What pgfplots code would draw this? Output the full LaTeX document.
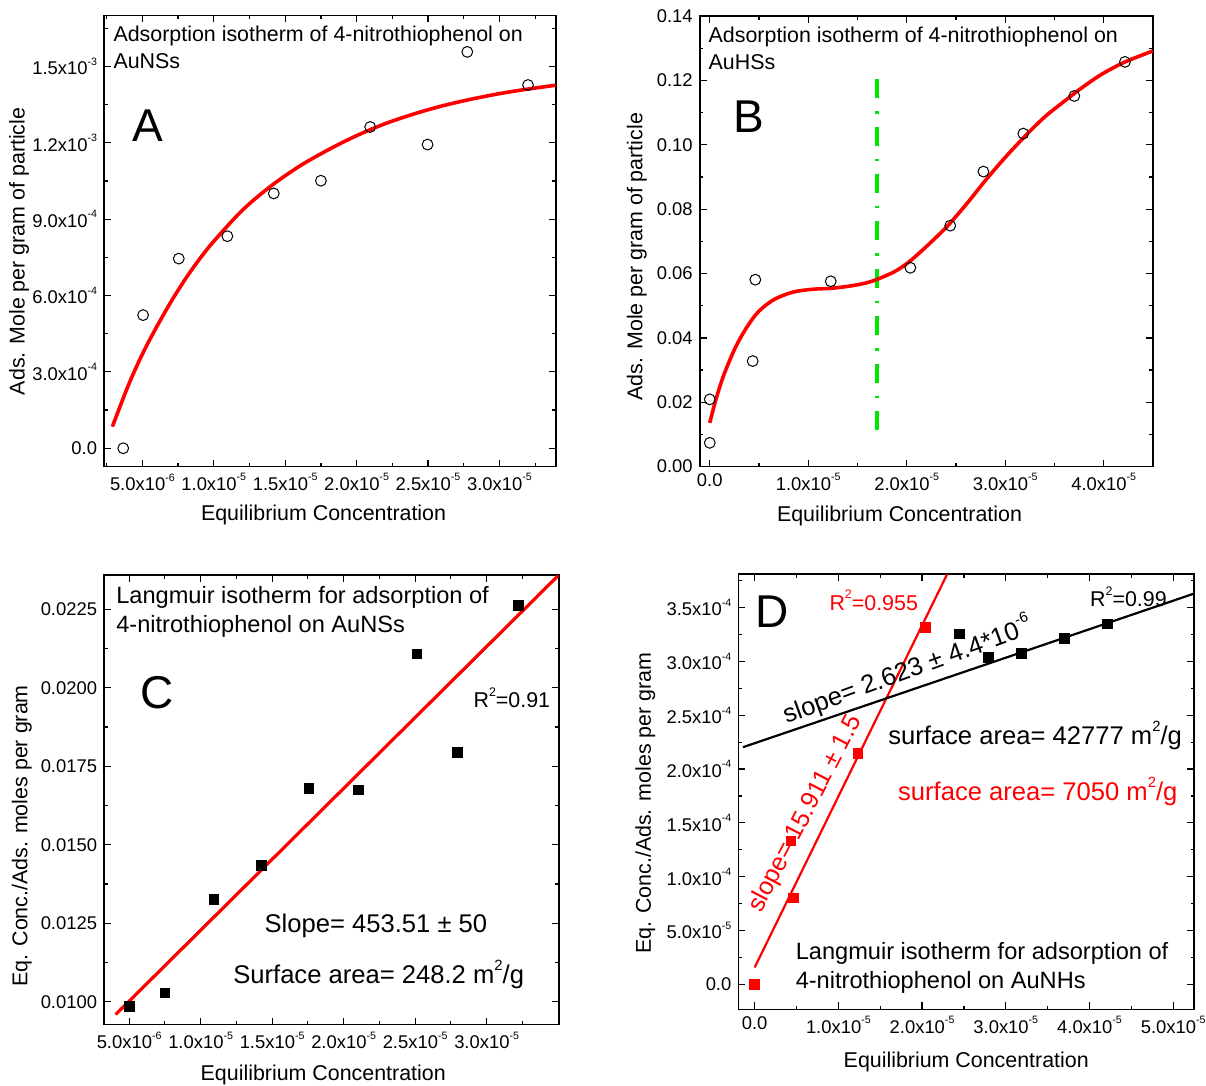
\documentclass[border=0pt]{standalone}
\usepackage{fontspec}
\setmainfont{Liberation Sans}
\usepackage{graphicx}
\usepackage{pgfplots}
\pgfplotsset{compat=1.18}
\definecolor{fitred}{RGB}{255,0,0}
\definecolor{lgreen}{RGB}{0,230,0}
\newcommand{\sups}[1]{\raisebox{0.52em}{\scalebox{0.58}{#1}}}
\newcommand{\sci}[2]{#1x10\sups{#2}}
\newcommand{\fs}[1]{\fontsize{#1}{#1}\selectfont}
\pgfplotsset{
  panel/.style={
    scale only axis,
    anchor=south west,
    axis line style={line width=0.8pt},
    every tick/.style={black, line width=0.6pt},
    tick align=inside,
    xtick pos=both, ytick pos=both,
    xticklabel pos=lower, yticklabel pos=left,
    major tick length=3.5pt,
    minor tick length=1.75pt,
    scaled ticks=false,
    tick label style={font=\fs{9.2}},
    label style={font=\fs{10.7}},
    clip=true,
  },
  pts/.style={only marks, mark=o, mark size=2.7pt, mark options={line width=0.5pt, black}},
  sqs/.style={only marks, mark=square*, mark size=2.4pt},
}
\begin{document}
\begin{tikzpicture}
\useasboundingbox (0,0) rectangle (603pt,543pt);
% ---------------- A
\begin{axis}[panel, at={(52.05pt,309.7pt)}, width=225.8pt, height=225.55pt,
  xmin=2.32e-6, xmax=3.394e-5, ymin=-7.2e-5, ymax=1.70e-3,
  xtick={5e-6,1e-5,1.5e-5,2e-5,2.5e-5,3e-5},
  xticklabels={\sci{5.0}{-6},\sci{1.0}{-5},\sci{1.5}{-5},\sci{2.0}{-5},\sci{2.5}{-5},\sci{3.0}{-5}},
  minor xtick={2.5e-6,7.5e-6,1.25e-5,1.75e-5,2.25e-5,2.75e-5,3.25e-5},
  ytick={0,3e-4,6e-4,9e-4,1.2e-3,1.5e-3},
  yticklabels={0.0,\sci{3.0}{-4},\sci{6.0}{-4},\sci{9.0}{-4},\sci{1.2}{-3},\sci{1.5}{-3}},
  minor ytick={1.5e-4,4.5e-4,7.5e-4,1.05e-3,1.35e-3,1.65e-3},
  xlabel={Equilibrium Concentration}, ylabel={Ads. Mole per gram of particle},
  xlabel style={at={(axis description cs:0.486,-0.108)}, anchor=center},
  ylabel style={at={(axis description cs:-0.188,0.477)}, anchor=center},
]
\addplot[fitred, line width=1.8pt, smooth] coordinates {
 (2.9e-6,8.5e-5) (4e-6,2.45e-4) (5e-6,3.7e-4) (6e-6,4.77e-4) (7e-6,5.75e-4)
 (8e-6,6.64e-4) (9e-6,7.43e-4) (10e-6,8.13e-4) (12e-6,9.35e-4) (14e-6,1.03e-3)
 (16e-6,1.108e-3) (18e-6,1.172e-3) (20e-6,1.228e-3) (22e-6,1.275e-3) (24e-6,1.313e-3)
 (26e-6,1.345e-3) (28e-6,1.371e-3) (30e-6,1.393e-3) (32e-6,1.411e-3) (33.94e-6,1.426e-3)};
\addplot[pts] coordinates {
 (3.66e-6,0) (5.05e-6,5.23e-4) (7.55e-6,7.45e-4) (10.95e-6,8.33e-4) (14.2e-6,1.001e-3)
 (17.5e-6,1.051e-3) (20.95e-6,1.262e-3) (24.97e-6,1.193e-3) (27.75e-6,1.557e-3) (32.0e-6,1.427e-3)};
\node[anchor=north west, align=left, font=\fontsize{10.7}{13.5}\selectfont, inner sep=0pt] at (rel axis cs:0.02,0.978) {Adsorption isotherm of 4-nitrothiophenol on\\AuNSs};
\node[font=\fs{23}, inner sep=0pt] at (rel axis cs:0.096,0.756) {A};
\end{axis}
% ---------------- B
\begin{axis}[panel, at={(349.85pt,309.7pt)}, width=226.55pt, height=225.2pt,
  xmin=-1.02e-6, xmax=4.499e-5, ymin=0, ymax=0.14,
  xtick={0,1e-5,2e-5,3e-5,4e-5},
  xticklabels={0.0,\sci{1.0}{-5},\sci{2.0}{-5},\sci{3.0}{-5},\sci{4.0}{-5}},
  minor xtick={5e-6,1.5e-5,2.5e-5,3.5e-5},
  ytick={0,0.02,0.04,0.06,0.08,0.10,0.12,0.14},
  yticklabels={0.00,0.02,0.04,0.06,0.08,0.10,0.12,0.14},
  minor ytick={0.01,0.03,0.05,0.07,0.09,0.11,0.13},
  xlabel={Equilibrium Concentration}, ylabel={Ads. Mole per gram of particle},
  xlabel style={at={(axis description cs:0.441,-0.109)}, anchor=center},
  ylabel style={at={(axis description cs:-0.139,0.466)}, anchor=center},
]
\addplot[lgreen, line width=2pt, dash pattern=on 9.5pt off 6.5pt on 1.2pt off 6.5pt] coordinates {(1.696e-5,0.1204) (1.696e-5,0.00863)};
\addplot[fitred, line width=1.8pt, smooth] coordinates {
 (0,0.01359) (0.0628e-5,0.02087) (0.1413e-5,0.02836) (0.2591e-5,0.03693) (0.3768e-5,0.04335)
 (0.4946e-5,0.04816) (0.6516e-5,0.05191) (0.8479e-5,0.05426) (1.0442e-5,0.05512) (1.2405e-5,0.05544)
 (1.4367e-5,0.05619) (1.6330e-5,0.05747) (1.8685e-5,0.06047) (2.0255e-5,0.06368) (2.2218e-5,0.06903)
 (2.4181e-5,0.07492) (2.6143e-5,0.08188) (2.8106e-5,0.08937) (3.0069e-5,0.09633) (3.2031e-5,0.10275)
 (3.3994e-5,0.10863) (3.5957e-5,0.11345) (3.7920e-5,0.11805) (3.9882e-5,0.12210) (4.2159e-5,0.12576)
 (4.4985e-5,0.12919)};
\addplot[pts] coordinates {
 (0,0.00739) (0,0.0209) (0.436e-5,0.0328) (0.463e-5,0.0581) (1.229e-5,0.0576) (2.037e-5,0.0618)
 (2.442e-5,0.0749) (2.779e-5,0.0917) (3.184e-5,0.1035) (3.702e-5,0.1152) (4.216e-5,0.1258)};
\node[anchor=north west, align=left, font=\fontsize{10.7}{13.5}\selectfont, inner sep=0pt] at (rel axis cs:0.019,0.978) {Adsorption isotherm of 4-nitrothiophenol on\\AuHSs};
\node[font=\fs{23}, inner sep=0pt] at (rel axis cs:0.108,0.776) {B};
\end{axis}
% ---------------- C
\begin{axis}[panel, at={(52.05pt,30.7pt)}, width=227.3pt, height=224.75pt,
  xmin=3.25e-6, xmax=3.504e-5, ymin=0.009273, ymax=0.02359,
  xtick={5e-6,1e-5,1.5e-5,2e-5,2.5e-5,3e-5},
  xticklabels={\sci{5.0}{-6},\sci{1.0}{-5},\sci{1.5}{-5},\sci{2.0}{-5},\sci{2.5}{-5},\sci{3.0}{-5}},
  minor xtick={7.5e-6,1.25e-5,1.75e-5,2.25e-5,2.75e-5,3.25e-5},
  ytick={0.01,0.0125,0.015,0.0175,0.02,0.0225},
  yticklabels={0.0100,0.0125,0.0150,0.0175,0.0200,0.0225},
  minor ytick={0.01125,0.01375,0.01625,0.01875,0.02125},
  xlabel={Equilibrium Concentration}, ylabel={Eq. Conc./Ads. moles per gram},
  xlabel style={at={(axis description cs:0.482,-0.112)}, anchor=center},
  ylabel style={at={(axis description cs:-0.181,0.42)}, anchor=center},
]
\addplot[fitred, line width=1.6pt] coordinates {(4.06e-6,0.009594) (3.504e-5,0.02359)};
\addplot[sqs, black] coordinates {
 (5.0e-6,0.009861) (7.49e-6,0.010288) (10.93e-6,0.013259) (14.26e-6,0.014348) (17.56e-6,0.016795)
 (21.04e-6,0.016752) (25.12e-6,0.021079) (27.96e-6,0.017949) (32.23e-6,0.022618)};
\node[anchor=north west, align=left, font=\fontsize{11.8}{14.5}\selectfont, inner sep=0pt] at (rel axis cs:0.026,0.975) {Langmuir isotherm for adsorption of\\4-nitrothiophenol on AuNSs};
\node[font=\fs{23}, inner sep=0pt] at (rel axis cs:0.116,0.739) {C};
\node[font=\fs{10.7}] at (rel axis cs:0.897,0.728) {R\sups{2}=0.91};
\node[font=\fs{12.8}] at (rel axis cs:0.598,0.219) {Slope= 453.51 ± 50};
\node[font=\fs{12.8}] at (rel axis cs:0.604,0.112) {Surface area= 248.2 m\sups{2}/g};
\end{axis}
% ---------------- D
\begin{axis}[panel, at={(369.2pt,38.25pt)}, width=227.85pt, height=217.7pt,
  xmin=-1.94e-6, xmax=5.249e-5, ymin=-2.34e-5, ymax=3.811e-4,
  xtick={0,1e-5,2e-5,3e-5,4e-5,5e-5},
  xticklabels={0.0,\sci{1.0}{-5},\sci{2.0}{-5},\sci{3.0}{-5},\sci{4.0}{-5},\sci{5.0}{-5}},
  minor xtick={5e-6,1.5e-5,2.5e-5,3.5e-5,4.5e-5},
  ytick={0,5e-5,1e-4,1.5e-4,2e-4,2.5e-4,3e-4,3.5e-4},
  yticklabels={0.0,\sci{5.0}{-5},\sci{1.0}{-4},\sci{1.5}{-4},\sci{2.0}{-4},\sci{2.5}{-4},\sci{3.0}{-4},\sci{3.5}{-4}},
  minor ytick={2.5e-5,7.5e-5,1.25e-4,1.75e-4,2.25e-4,2.75e-4,3.25e-4,3.75e-4},
  xlabel={Equilibrium Concentration}, ylabel={Eq. Conc./Ads. moles per gram},
  xlabel style={at={(axis description cs:0.5,-0.121)}, anchor=center},
  ylabel style={at={(axis description cs:-0.204,0.474)}, anchor=center},
]
\addplot[fitred, line width=1.1pt] coordinates {(0,1.56e-5) (2.4e-5,3.97e-4)};
\addplot[black, line width=1.1pt] coordinates {(-1.385e-6,2.203e-4) (5.249e-5,3.630e-4)};
\addplot[sqs, fitred] coordinates {
 (0,0) (0.4617e-5,0.801e-4) (0.434e-5,1.331e-4) (1.233e-5,2.144e-4) (2.041e-5,3.313e-4)};
\addplot[sqs, black] coordinates {
 (2.447e-5,3.256e-4) (2.789e-5,3.038e-4) (3.186e-5,3.076e-4) (3.703e-5,3.213e-4) (4.215e-5,3.350e-4)};
\node[font=\fs{23}, inner sep=0pt] at (rel axis cs:0.074,0.913) {D};
\node[font=\fs{10.7}, text=fitred] at (rel axis cs:0.297,0.940) {R\sups{2}=0.955};
\node[font=\fs{10.7}] at (rel axis cs:0.856,0.948) {R\sups{2}=0.99};
\node[font=\fs{12.8}, rotate=20] at (rel axis cs:0.37,0.78) {slope= 2.623 ± 4.4*10\sups{-6}};
\node[font=\fs{12.8}] at (rel axis cs:0.651,0.630) {surface area= 42777 m\sups{2}/g};
\node[font=\fs{12.8}, text=fitred] at (rel axis cs:0.657,0.501) {surface area= 7050 m\sups{2}/g};
\node[font=\fs{12.5}, text=fitred, rotate=62.5] at (rel axis cs:0.148,0.449) {slope= 15.911 ± 1.5};
\node[anchor=north west, align=left, font=\fontsize{11.8}{14.5}\selectfont, inner sep=0pt] at (rel axis cs:0.125,0.155) {Langmuir isotherm for adsorption of\\4-nitrothiophenol on AuNHs};
\end{axis}
\end{tikzpicture}
\end{document}
